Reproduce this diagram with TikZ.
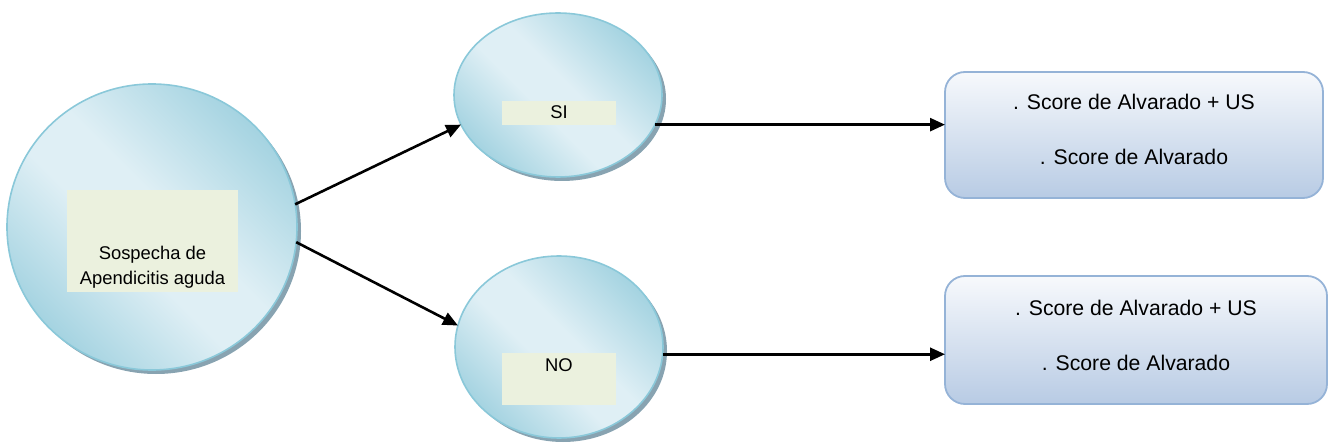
\documentclass[tikz,border=0pt]{standalone}
\usepackage{fontspec}
\setmainfont{Liberation Sans}
\usetikzlibrary{shapes.geometric,arrows.meta,calc}

\definecolor{bubbleLight}{HTML}{DFEFF5}
\definecolor{bubbleDark}{HTML}{A2D2E0}
\definecolor{bubbleEdge}{HTML}{8AC8D9}
\definecolor{bubbleShadow}{HTML}{88A3B1}
\definecolor{labelFill}{HTML}{EBF1DE}
\definecolor{boxTop}{HTML}{F7F9FC}
\definecolor{boxBottom}{HTML}{B8CBE4}
\definecolor{boxEdge}{HTML}{95B3D7}

\pgfdeclarehorizontalshading{bubble}{100bp}{%
  color(0bp)=(bubbleDark); color(24bp)=(bubbleDark); color(44bp)=(bubbleLight);
  color(54bp)=(bubbleLight); color(76bp)=(bubbleDark); color(100bp)=(bubbleDark)}

\tikzset{
  bubble/.style={ellipse, inner sep=0pt, outer sep=0pt, draw=bubbleEdge, line width=1.6pt,
    shading=bubble, shading angle=45},
  bubbleshadow/.style={ellipse, inner sep=0pt, outer sep=0pt, fill=bubbleShadow, draw=none},
  labelbox/.style={rectangle, fill=labelFill, inner sep=0pt, outer sep=0pt},
  resultbox/.style={rectangle, rounded corners=20pt, draw=boxEdge, line width=1.8pt,
    top color=boxTop, bottom color=boxBottom, inner sep=0pt, outer sep=0pt},
  smalltxt/.style={font=\fontsize{18.4pt}{25pt}\selectfont, inner sep=0pt, align=center},
  bigtxt/.style={font=\fontsize{21.2pt}{26pt}\selectfont, inner sep=0pt, align=center},
  arr/.style={line width=2.6pt, -{Triangle[length=15pt,width=13pt]}},
}

\begin{document}
\begin{tikzpicture}[x=1pt,y=-1pt]
\useasboundingbox (0,0) rectangle (1330,446);

% drop shadows of the three bubbles
\node[bubbleshadow, minimum width=290pt, minimum height=286pt] (bigsh) at (156,231) {};
\node[bubbleshadow, minimum width=208pt, minimum height=164pt] (sish) at (562,99) {};
\node[bubbleshadow, minimum width=208pt, minimum height=182pt] (nosh) at (563,351) {};

% bubbles
\node[bubble, minimum width=290pt, minimum height=286pt] (big) at (152,227) {};
\node[bubble, minimum width=208pt, minimum height=164pt] (si) at (558,95) {};
\node[bubble, minimum width=208pt, minimum height=182pt] (no) at (559,347) {};

% label panels inside the bubbles
\node[labelbox, minimum width=171pt, minimum height=102pt] (bigpanel) at (152.5,241) {};
\node[labelbox, minimum width=114pt, minimum height=24pt] (sipanel) at (559,113) {};
\node[labelbox, minimum width=114pt, minimum height=52pt] (nopanel) at (559,379) {};

% the two-line label sits at the foot of its panel (base = last line)
\node[smalltxt, anchor=base] (bigtext) at (152.5,285) {Sospecha de\\Apendicitis aguda};
\node[smalltxt, anchor=base] (sitext) at (559,119) {SI};
\node[smalltxt, anchor=base] (notext) at (559,371) {NO};

% result boxes
\node[resultbox, minimum width=378pt, minimum height=126pt] (box1) at (1134,135) {};
\node[resultbox, minimum width=382pt, minimum height=128pt] (box2) at (1136,340) {};

\node[bigtxt, anchor=base] (b1a) at (1134,110) {. Score de Alvarado + US};
\node[bigtxt, anchor=base] (b1b) at (1134,165) {. Score de Alvarado};
\node[bigtxt, anchor=base] (b2a) at (1136,315) {. Score de Alvarado + US};
\node[bigtxt, anchor=base] (b2b) at (1136,370) {. Score de Alvarado};

% connectors
\draw[arr] (big.9) -- (si.197);
\draw[arr] (big.-6) -- (no.168);
\draw[arr] (si.-17) -- (si.-17 -| box1.west);
\draw[arr] (no.-4) -- (no.-4 -| box2.west);
\end{tikzpicture}
\end{document}
